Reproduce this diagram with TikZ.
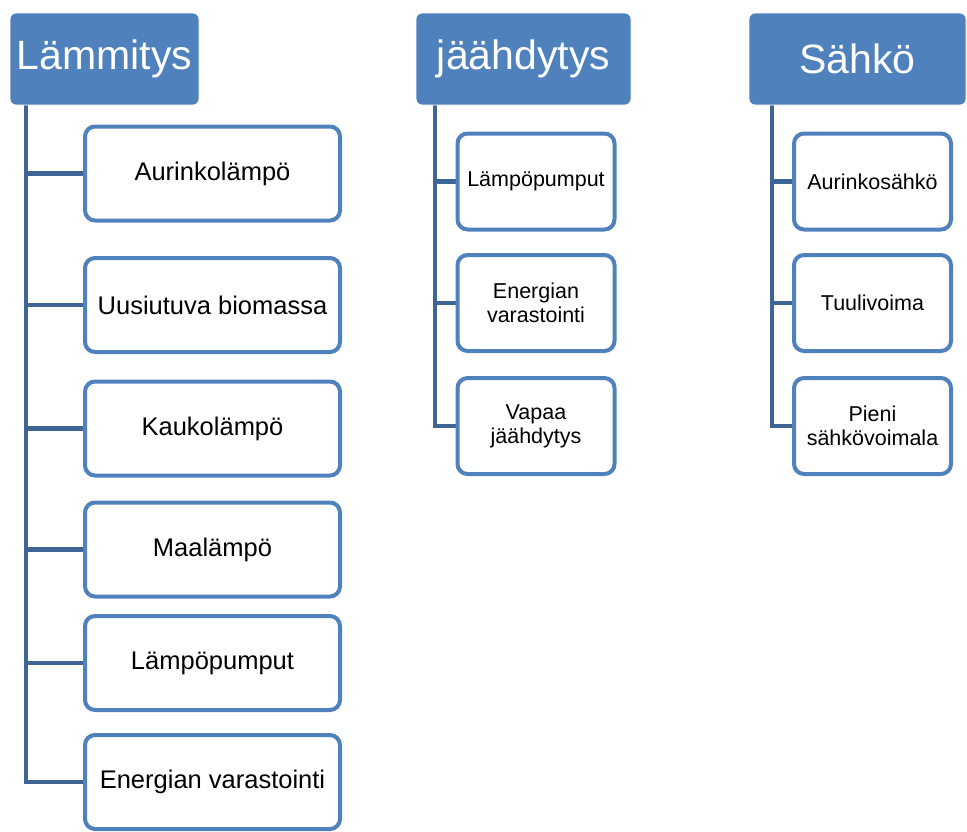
\documentclass[tikz,border=0pt]{standalone}
\usepackage{fontspec}
\setmainfont{Liberation Sans}
\usetikzlibrary{backgrounds}
\definecolor{hdrblue}{RGB}{79,129,189}
\definecolor{bordblue}{RGB}{79,129,189}
\definecolor{linkblue}{RGB}{62,101,150}
\tikzset{
  hdr/.style={fill=hdrblue, draw=white, line width=0.8pt, rounded corners=6pt, text=white,
    font=\fontsize{41}{45}\selectfont, inner sep=0pt, minimum height=92pt, align=center},
  bigbox/.style={draw=bordblue, fill=white, line width=4pt, rounded corners=10pt,
    minimum width=255pt, minimum height=94pt, inner sep=0pt, align=center,
    font=\fontsize{25.5}{28}\selectfont},
  smallbox/.style={draw=bordblue, fill=white, line width=4pt, rounded corners=10pt,
    minimum width=157pt, minimum height=96pt, inner sep=0pt, align=center,
    font=\fontsize{21.5}{24}\selectfont},
  link/.style={draw=linkblue, line width=4.5pt}
}
\begin{document}
\begin{tikzpicture}[x=1pt,y=-1pt]
\useasboundingbox (0,0) rectangle (967,831);
% headers
\node[hdr, minimum width=189pt] (h1) at (104.5,59) {L\"ammitys};
\node[hdr, minimum width=215pt] (h2) at (523.5,59) {j\"a\"ahdytys};
\node[hdr, minimum width=217pt] (h3) at (857.5,59) {S\"ahk\"o};
% column 1
\node[bigbox] (a1) at (212.5,173.5) {Aurinkol\"amp\"o};
\node[bigbox] (a2) at (212.5,305) {Uusiutuva biomassa};
\node[bigbox] (a3) at (212.5,428.5) {Kaukol\"amp\"o};
\node[bigbox] (a4) at (212.5,549.5) {Maal\"amp\"o};
\node[bigbox] (a5) at (212.5,663) {L\"amp\"opumput};
\node[bigbox] (a6) at (212.5,782) {Energian varastointi};
% column 2
\node[smallbox] (b1) at (536,181.5) {L\"amp\"opumput};
\node[smallbox] (b2) at (536,303) {Energian\\varastointi};
\node[smallbox] (b3) at (536,426) {Vapaa\\j\"a\"ahdytys};
% column 3
\node[smallbox] (c1) at (872.5,181.5) {Aurinkos\"ahk\"o};
\node[smallbox] (c2) at (872.5,303) {Tuulivoima};
\node[smallbox] (c3) at (872.5,426) {Pieni\\s\"ahk\"ovoimala};
% connector tops
\coordinate (t1) at (26,104);
\coordinate (t2) at (435,104);
\coordinate (t3) at (772,104);
\begin{scope}[on background layer]
\foreach \n in {a1,a2,a3,a4,a5,a6} \draw[link] (t1) |- (\n.west);
\foreach \n in {b1,b2,b3} \draw[link] (t2) |- (\n.west);
\foreach \n in {c1,c2,c3} \draw[link] (t3) |- (\n.west);
\end{scope}
\end{tikzpicture}
\end{document}
